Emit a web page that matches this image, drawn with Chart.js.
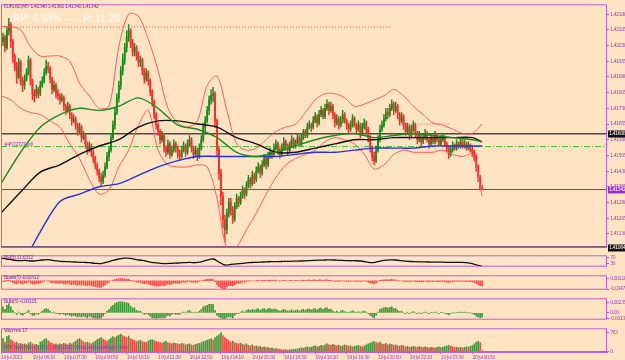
<!DOCTYPE html>
<html>
<head>
<meta charset="utf-8">
<title>EURUSD,M5</title>
<script src="https://cdn.jsdelivr.net/npm/chart.js@4.4.1/dist/chart.umd.min.js"></script>
<style>
  html, body { margin: 0; padding: 0; background: #ffe4c4; }
  #wrap { position: relative; width: 625px; height: 360px; overflow: hidden; background: #ffe4c4; }
  #wrap canvas { position: absolute; left: 0; }
</style>
</head>
<body>
<div id="wrap">
  <canvas id="main" width="625" height="252" style="top:0"></canvas>
  <canvas id="rsi" width="625" height="20" style="top:251px"></canvas>
  <canvas id="bears" width="625" height="23" style="top:271px"></canvas>
  <canvas id="bulls" width="625" height="30" style="top:294px"></canvas>
  <canvas id="vol" width="625" height="36" style="top:324px"></canvas>
</div>
<script>
// EURUSD M5, one value per bar
const firstOpen = 1.4203;
const close = [1.4205,1.4207,1.4202,1.4210,1.4213,1.4205,1.4198,1.4193,1.4188,1.4195,
1.4186,1.4184,1.4187,1.4190,1.4196,1.4186,1.4180,1.4179,1.4182,1.4180,
1.4184,1.4186,1.4190,1.4193,1.4192,1.4187,1.4182,1.4184,1.4180,1.4179,
1.4177,1.4178,1.4174,1.4172,1.4174,1.4170,1.4167,1.4168,1.4165,1.4162,
1.4164,1.4159,1.4160,1.4156,1.4153,1.4155,1.4152,1.4149,1.4146,1.4143,
1.4140,1.4138,1.4141,1.4145,1.4150,1.4153,1.4159,1.4165,1.4171,1.4178,
1.4184,1.4191,1.4196,1.4202,1.4207,1.4210,1.4204,1.4200,1.4202,1.4198,
1.4195,1.4196,1.4191,1.4187,1.4190,1.4186,1.4181,1.4176,1.4170,1.4165,
1.4162,1.4158,1.4160,1.4154,1.4152,1.4156,1.4151,1.4153,1.4156,1.4154,
1.4151,1.4150,1.4153,1.4155,1.4152,1.4156,1.4158,1.4154,1.4151,1.4153,
1.4150,1.4154,1.4158,1.4164,1.4167,1.4172,1.4177,1.4179,1.4180,1.4167,
1.4153,1.4142,1.4131,1.4120,1.4115,1.4123,1.4128,1.4124,1.4120,1.4126,
1.4130,1.4128,1.4131,1.4134,1.4132,1.4136,1.4139,1.4137,1.4141,1.4139,
1.4143,1.4145,1.4142,1.4146,1.4149,1.4146,1.4150,1.4152,1.4151,1.4154,
1.4156,1.4153,1.4151,1.4154,1.4157,1.4155,1.4153,1.4156,1.4158,1.4155,
1.4157,1.4159,1.4156,1.4159,1.4162,1.4160,1.4164,1.4165,1.4164,1.4167,
1.4169,1.4166,1.4170,1.4172,1.4169,1.4173,1.4175,1.4172,1.4174,1.4170,
1.4166,1.4168,1.4165,1.4167,1.4170,1.4167,1.4165,1.4163,1.4165,1.4168,
1.4165,1.4163,1.4165,1.4161,1.4164,1.4166,1.4163,1.4159,1.4154,1.4150,
1.4148,1.4153,1.4158,1.4163,1.4165,1.4168,1.4171,1.4170,1.4173,1.4175,
1.4172,1.4174,1.4170,1.4167,1.4169,1.4165,1.4162,1.4164,1.4160,1.4163,
1.4165,1.4161,1.4158,1.4160,1.4157,1.4159,1.4161,1.4158,1.4156,1.4159,
1.4157,1.4160,1.4158,1.4156,1.4158,1.4159,1.4156,1.4154,1.4151,1.4153,
1.4155,1.4154,1.4156,1.4155,1.4157,1.4155,1.4156,1.4154,1.4155,1.4153,
1.4152,1.4150,1.4145,1.4140,1.41348,1.41342];
const high = [1.4208,1.4209,1.4208,1.4212,1.4216,1.4214,1.4206,1.4199,1.4195,1.4197,
1.4196,1.4188,1.4189,1.4192,1.4198,1.4197,1.4187,1.4182,1.4184,1.4183,
1.4186,1.4188,1.4192,1.4196,1.4195,1.4193,1.4188,1.4186,1.4185,1.4182,
1.4180,1.4180,1.4179,1.4175,1.4176,1.4175,1.4171,1.4170,1.4169,1.4166,
1.4166,1.4165,1.4162,1.4161,1.4157,1.4157,1.4156,1.4153,1.4150,1.4147,
1.4144,1.4142,1.4143,1.4147,1.4152,1.4155,1.4161,1.4167,1.4173,1.4180,
1.4186,1.4193,1.4199,1.4204,1.4210,1.4213,1.4211,1.4206,1.4204,1.4203,
1.4200,1.4198,1.4197,1.4192,1.4192,1.4191,1.4187,1.4182,1.4177,1.4171,
1.4166,1.4163,1.4162,1.4161,1.4155,1.4158,1.4157,1.4155,1.4158,1.4157,
1.4155,1.4153,1.4155,1.4157,1.4156,1.4158,1.4160,1.4159,1.4155,1.4155,
1.4154,1.4156,1.4160,1.4166,1.4169,1.4174,1.4179,1.4182,1.4183,1.4181,
1.4168,1.4155,1.4144,1.4133,1.4122,1.4125,1.4130,1.4130,1.4126,1.4128,
1.4132,1.4131,1.4133,1.4136,1.4135,1.4138,1.4141,1.4140,1.4143,1.4142,
1.4145,1.4147,1.4146,1.4148,1.4151,1.4150,1.4152,1.4154,1.4153,1.4156,
1.4158,1.4157,1.4154,1.4156,1.4159,1.4158,1.4156,1.4157,1.4160,1.4159,
1.4158,1.4161,1.4160,1.4161,1.4163,1.4163,1.4166,1.4167,1.4166,1.4169,
1.4171,1.4170,1.4172,1.4174,1.4173,1.4175,1.4177,1.4176,1.4176,1.4175,
1.4171,1.4170,1.4169,1.4169,1.4172,1.4171,1.4168,1.4166,1.4167,1.4170,
1.4169,1.4166,1.4167,1.4166,1.4166,1.4168,1.4167,1.4164,1.4160,1.4155,
1.4152,1.4155,1.4160,1.4165,1.4167,1.4170,1.4173,1.4173,1.4175,1.4177,
1.4176,1.4176,1.4175,1.4171,1.4171,1.4170,1.4166,1.4166,1.4165,1.4165,
1.4167,1.4166,1.4162,1.4162,1.4161,1.4161,1.4163,1.4162,1.4159,1.4161,
1.4160,1.4162,1.4161,1.4159,1.4160,1.4161,1.4160,1.4157,1.4155,1.4155,
1.4157,1.4156,1.4158,1.4157,1.4159,1.4158,1.4158,1.4157,1.4157,1.4156,
1.4155,1.4153,1.4151,1.4146,1.4141,1.41362];
const low = [1.4201,1.4203,1.4200,1.4201,1.4208,1.4202,1.4195,1.4191,1.4185,1.4187,
1.4184,1.4181,1.4182,1.4186,1.4189,1.4184,1.4177,1.4176,1.4178,1.4178,
1.4179,1.4183,1.4185,1.4189,1.4190,1.4185,1.4180,1.4181,1.4178,1.4177,
1.4175,1.4176,1.4172,1.4170,1.4171,1.4168,1.4165,1.4166,1.4163,1.4160,
1.4161,1.4157,1.4158,1.4154,1.4151,1.4152,1.4150,1.4147,1.4144,1.4141,
1.4138,1.4136,1.4137,1.4140,1.4144,1.4148,1.4152,1.4158,1.4163,1.4170,
1.4176,1.4182,1.4189,1.4194,1.4200,1.4205,1.4202,1.4198,1.4198,1.4196,
1.4193,1.4193,1.4189,1.4185,1.4186,1.4184,1.4179,1.4174,1.4168,1.4163,
1.4160,1.4156,1.4157,1.4152,1.4150,1.4151,1.4149,1.4150,1.4152,1.4152,
1.4149,1.4148,1.4149,1.4152,1.4150,1.4151,1.4155,1.4152,1.4149,1.4150,
1.4148,1.4149,1.4153,1.4157,1.4162,1.4166,1.4170,1.4175,1.4176,1.4164,
1.4150,1.4139,1.4127,1.4116,1.4109,1.4113,1.4121,1.4122,1.4118,1.4119,
1.4125,1.4126,1.4127,1.4130,1.4130,1.4131,1.4135,1.4135,1.4136,1.4137,
1.4138,1.4142,1.4140,1.4141,1.4145,1.4144,1.4145,1.4149,1.4149,1.4150,
1.4153,1.4151,1.4149,1.4150,1.4153,1.4153,1.4151,1.4152,1.4155,1.4154,
1.4154,1.4156,1.4155,1.4155,1.4158,1.4159,1.4159,1.4163,1.4162,1.4163,
1.4166,1.4164,1.4165,1.4169,1.4168,1.4168,1.4172,1.4170,1.4171,1.4168,
1.4164,1.4165,1.4163,1.4164,1.4166,1.4166,1.4163,1.4161,1.4162,1.4164,
1.4164,1.4161,1.4162,1.4159,1.4160,1.4163,1.4161,1.4157,1.4152,1.4148,
1.4146,1.4147,1.4152,1.4157,1.4162,1.4164,1.4167,1.4168,1.4169,1.4172,
1.4170,1.4171,1.4168,1.4165,1.4166,1.4163,1.4160,1.4161,1.4158,1.4159,
1.4162,1.4159,1.4156,1.4157,1.4155,1.4156,1.4158,1.4157,1.4154,1.4155,
1.4156,1.4156,1.4157,1.4155,1.4155,1.4157,1.4155,1.4152,1.4149,1.4150,
1.4152,1.4153,1.4153,1.4154,1.4154,1.4154,1.4154,1.4153,1.4153,1.4152,
1.4150,1.4148,1.4143,1.4138,1.4134,1.41340];

const volumes = [420,520,380,600,640,480,420,350,380,300,
320,280,300,260,340,380,300,260,280,240,
380,420,480,520,440,360,320,280,300,260,
300,280,320,300,260,340,300,360,420,480,
520,460,400,360,380,340,300,360,420,480,
520,560,500,460,420,480,540,600,560,620,
660,700,640,600,560,620,520,480,440,400,
420,460,400,380,360,420,460,480,440,400,
380,360,340,380,420,360,320,300,340,320,
300,280,320,300,260,280,300,260,240,280,
300,320,360,400,420,460,480,520,460,560,
620,680,763,640,560,500,440,380,420,360,
320,300,340,280,260,300,240,220,260,200,
220,180,200,160,180,140,160,120,140,100,
110,90,80,70,60,70,50,60,70,80,
90,100,120,140,130,160,180,150,170,200,
220,180,200,240,220,260,300,260,240,280,
250,220,240,200,220,260,240,200,220,180,
200,220,240,200,180,220,260,300,340,380,
400,360,340,380,300,280,320,260,300,280,
240,260,220,200,240,220,180,200,160,180,
200,180,160,190,170,150,180,160,140,160,
150,140,160,180,150,170,190,220,240,200,
180,160,170,150,160,140,160,180,170,200,
240,300,380,420,360,17];

const bears = [-0.0003,-0.0002,-0.0006,0.0002,0.0004,-0.0004,-0.0010,-0.0014,-0.0018,-0.0010,
-0.0016,-0.0018,-0.0014,-0.0012,-0.0006,-0.0014,-0.0018,-0.0020,-0.0016,-0.0016,
-0.0012,-0.0008,-0.0004,0.0000,-0.0002,-0.0008,-0.0012,-0.0010,-0.0014,-0.0014,
-0.0016,-0.0014,-0.0018,-0.0020,-0.0016,-0.0020,-0.0022,-0.0020,-0.0024,-0.0026,
-0.0022,-0.0026,-0.0024,-0.0028,-0.0030,-0.0026,-0.0030,-0.0032,-0.0034,-0.0036,
-0.0038,-0.0038,-0.0032,-0.0024,-0.0014,-0.0008,0.0000,0.0004,0.0008,0.0010,
0.0012,0.0012,0.0012,0.0010,0.0010,0.0008,0.0002,-0.0004,-0.0002,-0.0008,
-0.0010,-0.0008,-0.0014,-0.0018,-0.0014,-0.0018,-0.0022,-0.0026,-0.0030,-0.0032,
-0.0032,-0.0030,-0.0026,-0.0028,-0.0026,-0.0020,-0.0022,-0.0018,-0.0014,-0.0014,
-0.0016,-0.0014,-0.0010,-0.0008,-0.0010,-0.0006,-0.0004,-0.0008,-0.0010,-0.0008,
-0.0010,-0.0004,0.0000,0.0004,0.0006,0.0008,0.0010,0.0010,0.0010,-0.0006,
-0.0022,-0.0034,-0.0042,-0.0046,-0.0048,-0.0036,-0.0028,-0.0028,-0.0030,-0.0022,
-0.0016,-0.0016,-0.0012,-0.0008,-0.0008,-0.0004,-0.0002,-0.0002,0.0000,-0.0001,
0.0001,0.0002,0.0000,0.0002,0.0003,0.0001,0.0003,0.0004,0.0002,0.0004,
0.0004,0.0000,-0.0002,0.0001,0.0003,0.0001,0.0000,0.0002,0.0003,0.0000,
0.0002,0.0003,0.0000,0.0003,0.0004,0.0002,0.0004,0.0005,0.0003,0.0005,
0.0006,0.0003,0.0005,0.0006,0.0003,0.0005,0.0006,0.0003,0.0004,0.0000,
-0.0004,-0.0002,-0.0005,-0.0002,0.0000,-0.0002,-0.0004,-0.0006,-0.0004,-0.0001,
-0.0003,-0.0005,-0.0003,-0.0006,-0.0003,-0.0001,-0.0004,-0.0008,-0.0012,-0.0016,
-0.0018,-0.0012,-0.0004,0.0002,0.0004,0.0006,0.0007,0.0006,0.0007,0.0008,
0.0005,0.0005,0.0001,-0.0002,-0.0001,-0.0004,-0.0006,-0.0004,-0.0007,-0.0004,
-0.0002,-0.0005,-0.0007,-0.0005,-0.0007,-0.0005,-0.0003,-0.0005,-0.0007,-0.0004,
-0.0005,-0.0003,-0.0005,-0.0006,-0.0004,-0.0004,-0.0006,-0.0008,-0.0010,-0.0007,
-0.0005,-0.0005,-0.0004,-0.0004,-0.0003,-0.0004,-0.0003,-0.0005,-0.0004,-0.0005,
-0.0007,-0.0010,-0.0016,-0.0022,-0.0028,-0.00312];

const bulls = [0.0010,0.0014,0.0008,0.0018,0.0022,0.0014,0.0006,0.0000,-0.0004,0.0002,
-0.0004,-0.0006,-0.0002,0.0002,0.0006,-0.0002,-0.0006,-0.0006,-0.0002,-0.0004,
0.0000,0.0004,0.0008,0.0010,0.0008,0.0004,0.0000,0.0002,-0.0002,-0.0002,
-0.0004,-0.0002,-0.0004,-0.0006,-0.0004,-0.0006,-0.0008,-0.0006,-0.0008,-0.0010,
-0.0008,-0.0010,-0.0008,-0.0010,-0.0012,-0.0008,-0.0010,-0.0012,-0.0012,-0.0013,
-0.0013,-0.0012,-0.0008,-0.0002,0.0004,0.0008,0.0014,0.0018,0.0022,0.0024,
0.0026,0.0026,0.0026,0.0024,0.0024,0.0022,0.0016,0.0012,0.0012,0.0006,
0.0004,0.0004,0.0000,-0.0004,-0.0002,-0.0004,-0.0008,-0.0012,-0.0012,-0.0013,
-0.0012,-0.0012,-0.0011,-0.0012,-0.0010,-0.0006,-0.0008,-0.0004,-0.0002,-0.0004,
-0.0004,-0.0004,0.0000,0.0002,0.0000,0.0004,0.0006,0.0002,0.0000,0.0002,
0.0000,0.0004,0.0008,0.0014,0.0016,0.0018,0.0020,0.0020,0.0020,0.0006,
-0.0006,-0.0010,-0.0012,-0.00134,-0.0013,-0.0011,-0.0010,-0.0010,-0.0012,-0.0006,
-0.0002,-0.0002,0.0002,0.0004,0.0002,0.0006,0.0008,0.0006,0.0008,0.0006,
0.0009,0.0010,0.0006,0.0009,0.0010,0.0007,0.0010,0.0010,0.0008,0.0009,
0.0009,0.0006,0.0004,0.0006,0.0008,0.0006,0.0004,0.0005,0.0007,0.0004,
0.0006,0.0007,0.0004,0.0007,0.0008,0.0006,0.0009,0.0009,0.0007,0.0009,
0.0010,0.0007,0.0010,0.0011,0.0008,0.0011,0.0012,0.0008,0.0009,0.0005,
0.0002,0.0004,0.0001,0.0004,0.0006,0.0003,0.0002,0.0001,0.0003,0.0005,
0.0003,0.0001,0.0003,0.0000,0.0003,0.0005,0.0002,-0.0002,-0.0006,-0.0010,
-0.0012,-0.0006,0.0002,0.0008,0.0010,0.0012,0.0013,0.0011,0.0013,0.0014,
0.0010,0.0010,0.0006,0.0003,0.0004,0.0000,-0.0002,0.0001,-0.0002,0.0001,
0.0003,0.0000,-0.0002,0.0000,-0.0002,0.0000,0.0002,0.0000,-0.0002,0.0001,
0.0000,0.0002,0.0000,-0.0001,0.0001,0.0001,-0.0001,-0.0003,-0.0005,-0.0002,
0.0000,0.0000,0.0001,0.0001,0.0002,0.0001,0.0002,0.0000,0.0001,0.0000,
-0.0002,-0.0004,-0.0008,-0.0010,-0.0012,-0.00101];

// RSI read every third bar, plus the last bar
const rsiStep = 3;
const rsi = [68,62,55,50,52,48,50,55,58,50, 46,44,42,40,38,36,32,30,40,52,
62,68,66,58,52,44,36,32,30,32, 34,36,38,36,42,54,62,40,20,24,
28,32,36,38,40,42,44,44,45,46, 47,48,50,52,54,55,56,54,52,50,
50,48,42,36,44,52,56,55,50,46, 44,42,42,40,40,40,38,38,38,36,
30,18];
const rsiLast = 11.6312;
const rsiLevels = [70, 30];

// moving averages and bands, read at these bars
const maBars = [0,10,20,30,40,50,60,70,80,90,100,110,120,130,140,150,160,170,180,190,200,210,220,230,240,245];
const maGreen = [1.4137,1.4152,1.4164,1.4170,1.4173,1.4172,1.4174,1.4178,1.4173,1.4165,1.4163,1.4159,1.4152,1.4150,1.4152,1.4155,1.4158,1.4160,1.4161,1.4159,1.4160,1.4161,1.4160,1.4159,1.4158,1.4157];
const maBlack = [1.4123,1.4133,1.41425,1.4146,1.4151,1.4155,1.4158,1.4164,1.4167,1.4167,1.41655,1.4164,1.4159,1.4156,1.4152,1.4152,1.4154,1.4156,1.4158,1.4158,1.4159,1.4159,1.4159,1.4159,1.4159,1.4157];
const blueBars = [15,20,30,40,50,60,70,80,90,100,110,120,130,140,150,160,170,180,190,200,210,220,230,240,245];
const maBlue = [1.41055,1.4114,1.41285,1.4132,1.41355,1.4137,1.4141,1.4145,1.4148,1.4150,1.4150,1.4150,1.4150,1.4150,1.4151,1.4152,1.4152,1.4153,1.4154,1.4154,1.4154,1.4155,1.4155,1.4155,1.4155];
const bandBars = [0,5,10,15,20,25,30,35,40,45,50,55,60,65,70,75,80,85,90,95,100,105,110,115,120,125,130,135,140,145,150,155,160,165,170,175,180,185,190,195,200,205,210,215,220,225,230,235,240,245];
const bandUpper = [1.4212,1.4212,1.42105,1.42025,1.4198,1.4198,1.4198,1.41955,1.4185,1.4179,1.4173,1.4174,1.42025,1.4218,1.4217,1.4206,1.4191,1.4173,1.4166,1.4164,1.4167,1.4184,1.41885,1.4172,1.4156,1.4153,1.4154,1.4158,1.4162,1.4164,1.41655,1.4171,1.4177,1.4180,1.4180,1.4178,1.4174,1.4175,1.4177,1.4179,1.4182,1.4179,1.4174,1.4170,1.4166,1.4165,1.4163,1.4161,1.4161,1.41655];
const bandLower = [1.4179,1.4177,1.4173,1.4171,1.4170,1.4167,1.4164,1.4156,1.4149,1.4139,1.4132,1.4134,1.4145,1.4153,1.4165,1.4172,1.4153,1.4146,1.4145,1.4145,1.4146,1.4145,1.4130,1.4106,1.4107,1.4115,1.4123,1.4132,1.4140,1.4146,1.4149,1.4151,1.4153,1.4157,1.4159,1.4158,1.4156,1.4151,1.4144,1.4146,1.4151,1.4153,1.4152,1.4152,1.4152,1.4153,1.4151,1.4150,1.4151,1.4131];

// horizontal levels
const orderLevel = 1.41608;
const lowLevel = 1.41064;
const sellLevel = 1.41547;
const dottedLevels = [1.42119, 1.41655];
const dottedFrom = [2, 203];
const dottedTo = [198, 229];

const priceTicks = [1.42180,1.42105,1.42030,1.41955,1.41880,1.41805,1.41730,1.41655,1.41580,1.41505,1.41430,1.41355,1.41280,1.41205,1.41130];
const xLabelBars = [0,16,32,48,64,80,96,112,128,144,160,176,192,208,224,240];
const xLabels = ['19 Jul 2011','19 Jul 06:10','19 Jul 07:30','19 Jul 08:50','19 Jul 10:10','19 Jul 11:30','19 Jul 12:50','19 Jul 14:10','19 Jul 15:30','19 Jul 16:50','19 Jul 18:10','19 Jul 19:30','19 Jul 20:50','19 Jul 22:10','19 Jul 23:30','20 Jul 00:50'];

const X_MAX = 308.6;
const PURPLE = '#bf5cd6';
const TXT = '#a246c0';
const SMALL = '"DejaVu Sans Condensed","DejaVu Sans",sans-serif';

const last = close.length - 1;
const bars = close.map((c, i) => i);
const open = close.map((c, i) => i === 0 ? firstOpen : close[i - 1]);
const candleColor = bars.map(i => close[i] >= open[i] ? '#12901a' : '#ff2a2a');
const pts = (xs, ys) => xs.map((x, k) => ({ x: x, y: ys[k] }));

// squeeze the tiny terminal fonts a little
const narrow = {
  id: 'narrow',
  beforeDraw(chart) { chart.ctx.letterSpacing = '-0.6px'; }
};
// frame round each panel
const frame = {
  id: 'frame',
  afterDraw(chart) {
    const { ctx, chartArea: a } = chart;
    ctx.save();
    ctx.strokeStyle = PURPLE;
    ctx.lineWidth = 1;
    ctx.strokeRect(a.left + 0.5, a.top + 0.5, a.right - a.left - 1, a.bottom - a.top - 1);
    ctx.restore();
  }
};
const captions = {
  id: 'captions',
  afterDraw(chart, args, opts) {
    const ctx = chart.ctx;
    (opts.items || []).forEach(t => {
      ctx.save();
      ctx.font = t.font;
      ctx.fillStyle = t.color;
      ctx.letterSpacing = t.spacing || '-0.6px';
      ctx.fillText(t.text, t.x, t.y);
      ctx.restore();
    });
  }
};
const tags = {
  id: 'tags',
  afterDraw(chart, args, opts) {
    if (!opts.items) return;
    const { ctx, chartArea: a } = chart;
    const y = chart.scales.y;
    ctx.save();
    ctx.font = '5.5px ' + SMALL;
    ctx.letterSpacing = '-0.6px';
    ctx.textBaseline = 'middle';
    opts.items.forEach(t => {
      const py = Math.round(y.getPixelForValue(t.value));
      ctx.fillStyle = t.bg;
      ctx.fillRect(a.right + 1, py - 3.5, 18, 7);
      ctx.fillStyle = '#ffffff';
      ctx.fillText(t.value.toFixed(5), a.right + 2, py);
    });
    ctx.restore();
  }
};
Chart.register(narrow, frame, captions, tags);

function xHidden() {
  return { type: 'linear', min: 0, max: X_MAX, display: false, offset: false, grid: { offset: false } };
}
function yRight(min, max, ticks, fmt) {
  return {
    position: 'right', min: min, max: max,
    afterFit: s => { s.width = 18; },
    afterBuildTicks: s => { s.ticks = ticks.map(v => ({ value: v })); },
    ticks: { font: { size: 5.5, family: SMALL }, color: TXT, padding: 1, callback: fmt },
    grid: { drawOnChartArea: false, drawTicks: true, tickLength: 2, color: PURPLE },
    border: { display: false }
  };
}
function baseOpts(top, bottom) {
  return {
    responsive: false, animation: false, events: [],
    layout: { padding: { left: 1, right: 0, top: top, bottom: bottom } },
    elements: { point: { radius: 0 }, line: { fill: false, tension: 0.3 }, bar: { borderWidth: 0 } },
    plugins: { legend: { display: false }, tooltip: { enabled: false } }
  };
}
function hline(price, from, to, color, width, dash, order) {
  return { type: 'line', data: [{ x: from, y: price }, { x: to, y: price }], borderColor: color,
    borderWidth: width, borderDash: dash, pointRadius: 0, tension: 0, order: order };
}

// main price window
const mainOpts = baseOpts(2, 2);
mainOpts.scales = {
  x: xHidden(),
  y: yRight(1.41064, 1.42227, priceTicks, v => v.toFixed(5))
};
mainOpts.plugins.captions = { items: [
  { text: 'EURUSD,M5  1.41348 1.41362 1.41340 1.41342', x: 4, y: 8, font: '5.5px ' + SMALL, color: '#8e34b0' },
  { text: 'RP: 6.98% ----- P: 11.29', x: 13, y: 22, font: '10px "Liberation Sans", Arial, sans-serif', color: '#fffaf3', spacing: '0px' },
  { text: '#4572727 sell', x: 4, y: 146, font: '5.5px ' + SMALL, color: '#a040c8' }
] };
mainOpts.plugins.tags = { items: [
  { value: orderLevel, bg: '#111111' },
  { value: close[last], bg: '#9b30d0' },
  { value: lowLevel, bg: '#111111' }
] };

new Chart(document.getElementById('main'), {
  type: 'bar',
  data: { datasets: [
    { type: 'line', data: pts(maBars, maGreen), borderColor: '#1b8c1b', borderWidth: 1.4, order: 1 },
    { type: 'line', data: pts(maBars, maBlack), borderColor: '#111111', borderWidth: 1.4, order: 2 },
    { type: 'line', data: pts(blueBars, maBlue), borderColor: '#2530ee', borderWidth: 1.4, order: 3 },
    { type: 'line', data: pts(bandBars, bandUpper), borderColor: '#ff5c5c', borderWidth: 1, order: 4 },
    { type: 'line', data: pts(bandBars, bandLower), borderColor: '#ff5c5c', borderWidth: 1, order: 4 },
    { type: 'bar', data: bars.map(i => ({ x: i, y: [open[i], close[i]] })), backgroundColor: candleColor,
      barThickness: 1.2, grouped: false, order: 6 },
    { type: 'bar', data: bars.map(i => ({ x: i, y: [low[i], high[i]] })), backgroundColor: candleColor,
      barThickness: 0.8, grouped: false, order: 7 },
    hline(orderLevel, 0, X_MAX, '#4a4a4a', 1.5, [], 8),
    hline(close[last], 0, X_MAX, '#5a5a5a', 1, [], 8),
    hline(lowLevel, 0, X_MAX, '#3a3a3a', 3, [], 8),
    hline(sellLevel, 0, X_MAX, '#33bb33', 1, [6, 2, 1, 2], 8),
    hline(dottedLevels[0], dottedFrom[0], dottedTo[0], '#ff4d4d', 1, [1, 2], 8),
    hline(dottedLevels[1], dottedFrom[1], dottedTo[1], '#ff4d4d', 1, [1, 2], 8)
  ] },
  options: mainOpts
});

// RSI window
const rsiOpts = baseOpts(1, 1);
rsiOpts.scales = { x: xHidden(), y: yRight(8, 88, rsiLevels, v => String(v)) };
rsiOpts.plugins.captions = { items: [
  { text: 'RSI(5) 11.6312', x: 4, y: 8, font: '5.5px ' + SMALL, color: '#7a2fa0' }
] };
const rsiPts = rsi.map((v, k) => ({ x: k * rsiStep, y: v }));
rsiPts.push({ x: last, y: rsiLast });
new Chart(document.getElementById('rsi'), {
  type: 'line',
  data: { datasets: [
    { data: rsiPts, borderColor: '#111111', borderWidth: 1.3, tension: 0.4, order: 1 },
    hline(rsiLevels[0], 0, X_MAX, '#ffffff', 1, [1, 2], 2),
    hline(rsiLevels[1], 0, X_MAX, '#ffffff', 1, [1, 2], 2)
  ] },
  options: rsiOpts
});

// Bears power
const bearsOpts = baseOpts(1, 1);
bearsOpts.scales = { x: xHidden(), y: yRight(-0.00519, 0.00317, [0.00118, -0.00479], v => v.toFixed(5)) };
bearsOpts.plugins.captions = { items: [
  { text: 'Bears(5) ' + bears[last].toFixed(5), x: 4, y: 8, font: '5.5px ' + SMALL, color: '#7a2fa0' }
] };
new Chart(document.getElementById('bears'), {
  type: 'bar',
  data: { datasets: [
    { data: bars.map(i => ({ x: i, y: bears[i] })), backgroundColor: '#ff4a4a', barThickness: 1 }
  ] },
  options: bearsOpts
});

// Bulls power
const bullsOpts = baseOpts(1, 1);
bullsOpts.scales = { x: xHidden(), y: yRight(-0.00163, 0.00344, [0.00235, 0, -0.00134], v => v === 0 ? '0.00' : v.toFixed(5)) };
bullsOpts.plugins.captions = { items: [
  { text: 'Bulls(5) ' + bulls[last].toFixed(5), x: 4, y: 9, font: '5.5px ' + SMALL, color: '#7a2fa0' }
] };
new Chart(document.getElementById('bulls'), {
  type: 'bar',
  data: { datasets: [
    { data: bars.map(i => ({ x: i, y: bulls[i] })), backgroundColor: '#3f9a3a', barThickness: 1 }
  ] },
  options: bullsOpts
});

// Volumes with the time axis
const volOpts = baseOpts(1, 0);
volOpts.scales = {
  x: {
    type: 'linear', min: 0, max: X_MAX, position: 'bottom', offset: false,
    afterFit: s => { s.height = 8; },
    afterBuildTicks: s => { s.ticks = xLabelBars.map(v => ({ value: v })); },
    ticks: { autoSkip: false, maxRotation: 0, align: 'start', padding: 0,
      font: { size: 5.5, family: SMALL }, color: TXT, callback: (v, i) => xLabels[i] },
    grid: { drawOnChartArea: false, drawTicks: true, tickLength: 2, color: PURPLE, offset: false },
    border: { display: true, color: PURPLE }
  },
  y: yRight(-30, 940, [763, 0], v => String(v))
};
volOpts.plugins.captions = { items: [
  { text: 'Volumes ' + volumes[last], x: 4, y: 8, font: '5.5px ' + SMALL, color: '#7a2fa0' },
  { text: 'MT4 Trade Panel 4.15 (C) 2001-2011 MetaQuotes Software Corp.', x: 4, y: 25, font: '5.5px ' + SMALL, color: '#9a3cc0' }
] };
new Chart(document.getElementById('vol'), {
  type: 'bar',
  data: { datasets: [
    { data: bars.map(i => ({ x: i, y: volumes[i] })),
      backgroundColor: bars.map(i => i > 0 && volumes[i] > volumes[i - 1] ? '#3c9a3c' : '#ff4444'),
      barThickness: 1 }
  ] },
  options: volOpts
});
</script>
</body>
</html>
